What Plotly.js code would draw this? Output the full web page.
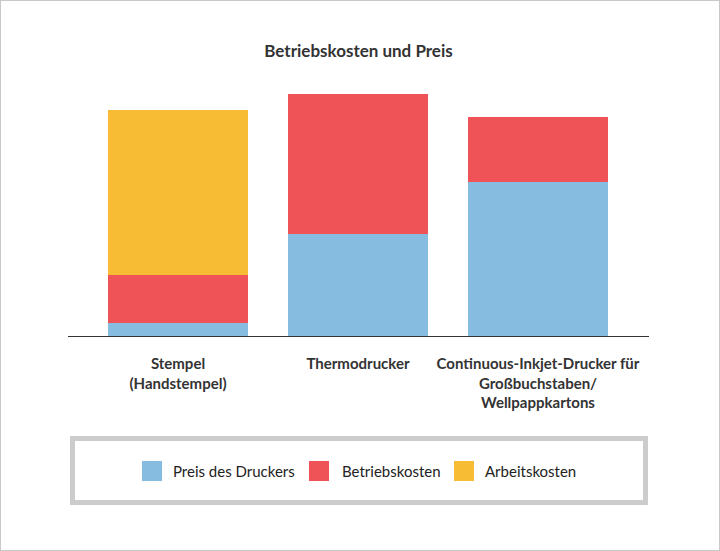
<!DOCTYPE html>
<html>
<head>
<meta charset="utf-8">
<script src="https://cdn.plot.ly/plotly-3.0.1.min.js"></script>
<style>
  html, body { margin: 0; padding: 0; background: #fff; }
  #chart { width: 720px; height: 551px; }
  #frame { position: absolute; left: 0; top: 0; width: 720px; height: 551px; box-sizing: border-box; border: 1px solid #c8c8c8; pointer-events: none; }
</style>
</head>
<body>
<div id="chart"></div>
<div id="frame"></div>
<script>
// ---- data ----
const categories = [
  "Stempel<br>(Handstempel)",
  "Thermodrucker",
  "Continuous-Inkjet-Drucker für<br>Großbuchstaben/<br>Wellpappkartons"
];
const seriesNames = ["Preis des Druckers", "Betriebskosten", "Arbeitskosten"];
const preisDesDruckers = [13, 102, 154];
const betriebskosten   = [48, 140, 65];
const arbeitskosten    = [165, 0, 0];
const colors = ["#85bcdf", "#ef5358", "#f7bc33"];
const chartTitle = "Betriebskosten und Preis";

// ---- geometry helpers (pixels -> paper) ----
const L = 68, R = 649, T = 86, B = 336;
const px = x => (x - L) / (R - L);
const py = y => (B - y) / (B - T);

const FONT = "Lato, 'Open Sans', sans-serif";
const values = [preisDesDruckers, betriebskosten, arbeitskosten];

const traces = seriesNames.map((n, i) => ({
  type: "bar",
  name: n,
  x: [0, 1, 2],
  y: values[i],
  marker: { color: colors[i], line: { width: 0 } },
  showlegend: false,
  hoverinfo: "name+y"
}));

// legend drawn manually (box, squares, labels)
const shapes = [{
  type: "rect", xref: "paper", yref: "paper",
  x0: px(72.5), x1: px(645.5), y0: py(438.5), y1: py(502.5),
  line: { color: "#cccccc", width: 5 }, fillcolor: "rgba(0,0,0,0)"
}];
const annotations = [];
const sqX = [142, 309, 454];
const txtX = [171, 340, 483];
seriesNames.forEach((n, i) => {
  shapes.push({
    type: "rect", xref: "paper", yref: "paper",
    x0: px(sqX[i]), x1: px(sqX[i] + 20), y0: py(461), y1: py(481),
    line: { width: 0 }, fillcolor: colors[i]
  });
  annotations.push({
    xref: "paper", yref: "paper", x: px(txtX[i]), y: py(471),
    xanchor: "left", yanchor: "middle", showarrow: false,
    text: n, font: { family: FONT, size: 15, color: "#222222" }
  });
});

const layout = {
  width: 720, height: 551,
  margin: { l: L, r: 720 - R, t: T, b: 551 - B, pad: 0 },
  paper_bgcolor: "#ffffff", plot_bgcolor: "#ffffff",
  barmode: "stack",
  bargap: 0.2222,
  title: {
    text: "<b>" + chartTitle + "</b>",
    x: 0.5, xanchor: "center", xref: "paper",
    y: 1 - 51 / 551, yanchor: "middle", yref: "container",
    font: { family: FONT, size: 17, color: "#333333" }
  },
  xaxis: {
    range: [-0.6111, 2.6167],
    tickmode: "array", tickvals: [0, 1, 2], ticktext: categories,
    showgrid: false, zeroline: false,
    showline: true, linecolor: "#333333", linewidth: 1,
    ticks: "outside", ticklen: 14, tickcolor: "rgba(0,0,0,0)",
    tickfont: { family: FONT, size: 15, color: "#333333", weight: "bold" },
    fixedrange: true
  },
  yaxis: {
    range: [0, 250],
    visible: false, showgrid: false, zeroline: false, fixedrange: true
  },
  shapes: shapes,
  annotations: annotations,
  font: { family: FONT, color: "#333333" }
};

Plotly.newPlot("chart", traces, layout, { displayModeBar: false, staticPlot: true });
</script>
</body>
</html>
